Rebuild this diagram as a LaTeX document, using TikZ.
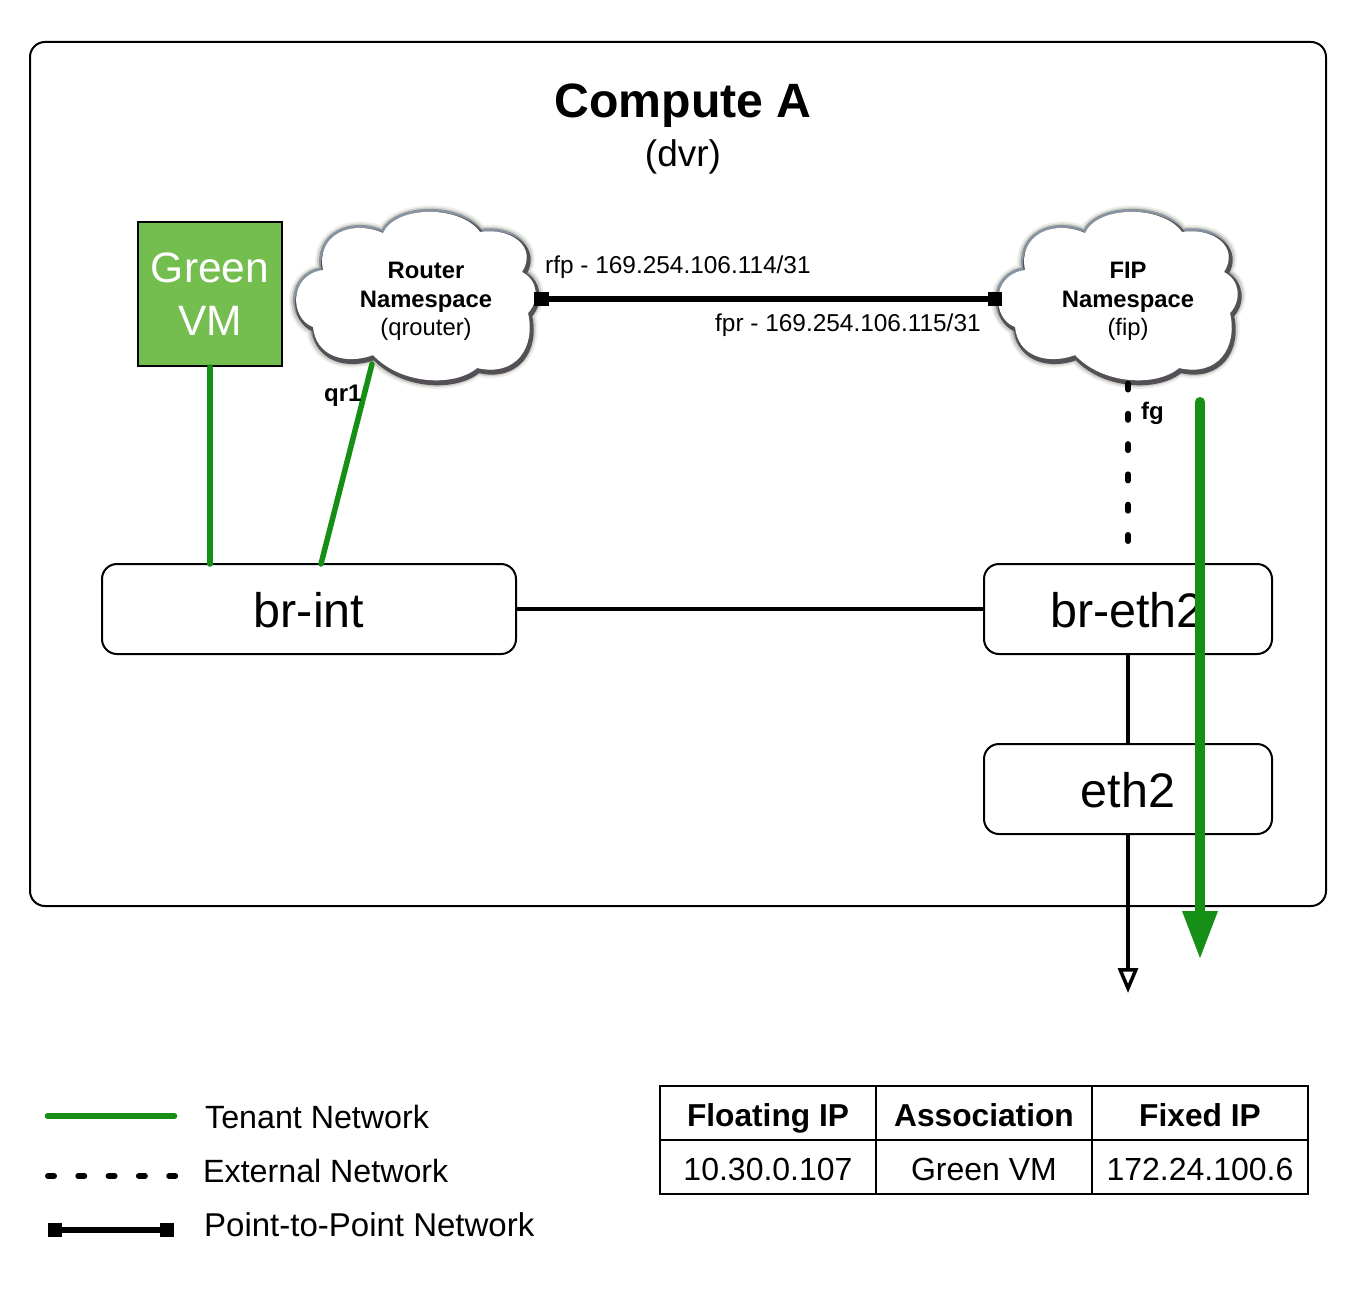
\documentclass[tikz,border=0pt]{standalone}
\usepackage{fontspec}
\setmainfont{Liberation Sans}
\usetikzlibrary{arrows.meta}
\definecolor{tenant}{RGB}{21,143,21}
\definecolor{vmgreen}{RGB}{116,190,80}
\definecolor{glowa}{RGB}{238,238,232}
\definecolor{glowb}{RGB}{205,207,202}
\definecolor{glowc}{RGB}{135,148,160}
\definecolor{cloudshade}{RGB}{85,80,85}
\def\cloudshape{(-43,-64) .. controls (-30,-92) and (35,-92) .. (54,-65)
 .. controls (85,-70) and (112,-50) .. (96,-25)
 .. controls (112,-17) and (114,3) .. (102,16)
 .. controls (110,50) and (90,80) .. (51,71)
 .. controls (28,90) and (-25,88) .. (-53,58)
 .. controls (-80,68) and (-110,60) .. (-113,30)
 .. controls (-136,22) and (-138,-22) .. (-103,-27)
 .. controls (-110,-62) and (-75,-78) .. (-43,-64) -- cycle}
\tikzset{
 boxnode/.style={draw=black,line width=2pt,rounded corners=15pt,inner sep=0pt,text height=37pt,text depth=-1pt,font=\fontsize{48.5}{50}\selectfont},
 tenantline/.style={draw=tenant,line width=5.5pt,line cap=round},
 plainline/.style={draw=black,line width=3.4pt},
 extline/.style={draw=black,line width=6pt,line cap=round,dash pattern=on 6pt off 24.3pt},
 ptpline/.style={draw=black,line width=6pt},
 squareend/.style={fill=black,minimum size=14.5pt,inner sep=0pt},
 cloudtext/.style={align=center,font=\fontsize{23.8}{28.5}\selectfont,inner sep=0pt},
 lab/.style={anchor=base west,inner sep=0pt,font=\fontsize{24.4}{28}\selectfont},
 boldlab/.style={anchor=base west,inner sep=0pt,font=\fontsize{24}{28}\selectfont\bfseries},
 legendtext/.style={anchor=base west,inner sep=0pt,font=\fontsize{32.2}{36}\selectfont},
 cell/.style={draw=black,line width=2pt,minimum width=216pt,minimum height=54pt,inner sep=0pt,text height=29pt,text depth=3pt,font=\fontsize{32}{36}\selectfont},
 headcell/.style={cell,font=\fontsize{31.7}{36}\selectfont\bfseries},
 cloudlayer/.pic={
  \draw[line width=15pt,color=glowa,line join=round,shift={(0.5,1)}] \cloudshape;
  \draw[line width=11pt,color=glowb,line join=round,shift={(0.5,1)}] \cloudshape;
  \draw[line width=6pt,color=glowc,line join=round] \cloudshape;
  \draw[line width=5pt,color=cloudshade,shift={(1.5,2.5)}] \cloudshape;
  \fill[white] \cloudshape;
 }
}
\begin{document}
\begin{tikzpicture}[x=1pt,y=-1pt]
\useasboundingbox (0,0) rectangle (1354,1300);
\fill[white] (0,0) rectangle (1354,1300);
% compute box
\node[draw=black,line width=2pt,rounded corners=15pt,minimum width=1296pt,minimum height=864pt,inner sep=0pt] (compute) at (678,474) {};
\node[anchor=base,inner sep=0pt,font=\fontsize{48.2}{50}\selectfont\bfseries] (title) at (683,118) {Compute A};
\node[anchor=base,inner sep=0pt,font=\fontsize{37}{40}\selectfont] (dvr) at (683,167) {(dvr)};
% clouds
\pic at (426,297) {cloudlayer};
\pic at (1128,297) {cloudlayer};
\node[cloudtext] (router) at (426,301.5) {\textbf{Router}\\\textbf{Namespace}\\(qrouter)};
\node[cloudtext] (fip) at (1128,301.5) {\textbf{FIP}\\\textbf{Namespace}\\(fip)};
% vm and boxes
\node[draw=black,line width=2pt,fill=vmgreen,text=white,minimum size=144pt,inner sep=0pt,align=center,font=\fontsize{42.5}{53}\selectfont] (vm) at (210,294) {Green\\VM};
\node[boxnode,minimum width=414pt,minimum height=90pt] (brint) at (309,609) {br-int};
\node[boxnode,minimum width=288pt,minimum height=90pt] (breth) at (1128,609) {\hspace*{-2pt}br-eth2};
\node[boxnode,minimum width=288pt,minimum height=90pt] (eth) at (1128,789) {eth2};
% connectors
\coordinate (qrtop) at (372,364);
\coordinate (qrbot) at (321,564);
\coordinate (vmbot) at (210,564);
\draw[tenantline] (vm.south) -- (vmbot);
\draw[tenantline] (qrtop) -- (qrbot);
\node[squareend] (rfp) at (541.5,299) {};
\node[squareend] (fpr) at (995,299) {};
\draw[ptpline] (rfp) -- (fpr);
\coordinate (fgtop) at (1128,383.5);
\coordinate (fgbot) at (1128,541);
\draw[extline] (fgtop) -- (fgbot);
\draw[plainline] (brint.east) -- (breth.west);
\draw[plainline] (breth.south) -- (eth.north);
\coordinate (exttip) at (1128,993);
\draw[draw=black,line width=3.5pt,-{Triangle[open,length=25pt,width=20pt]}] (eth.south) -- (exttip);
\coordinate (greentop) at (1200,402);
\coordinate (greentip) at (1200,958);
\draw[draw=tenant,fill=tenant,line width=10pt,line cap=round,-{Triangle[length=47pt,width=36pt,line width=0pt]}] (greentop) -- (greentip);
% labels
\node[lab] (rfplab) at (545,273) {rfp - 169.254.106.114/31};
\node[lab] (fprlab) at (715,331) {fpr - 169.254.106.115/31};
\node[boldlab] (qrlab) at (324,401) {qr1};
\node[boldlab] (fglab) at (1141,419) {fg};
% legend
\coordinate (la) at (47.5,1116); \coordinate (lb) at (174.5,1116);
\draw[tenantline] (la) -- (lb);
\coordinate (lc) at (48,1176); \coordinate (ld) at (178,1176);
\draw[extline] (lc) -- (ld);
\node[squareend] (le) at (55,1230) {};
\node[squareend] (lf) at (167,1230) {};
\draw[ptpline] (le) -- (lf);
\node[legendtext] (t1) at (205,1128) {Tenant Network};
\node[legendtext] (t2) at (203,1182) {External Network};
\node[legendtext,font=\fontsize{33}{36}\selectfont] (t3) at (204,1236) {Point-to-Point Network};
% table
\node[headcell] (h1) at (768,1113) {Floating IP};
\node[headcell] (h2) at (984,1113) {Association};
\node[headcell] (h3) at (1200,1113) {Fixed IP};
\node[cell] (v1) at (768,1167) {10.30.0.107};
\node[cell] (v2) at (984,1167) {Green VM};
\node[cell] (v3) at (1200,1167) {172.24.100.6};
\end{tikzpicture}
\end{document}
